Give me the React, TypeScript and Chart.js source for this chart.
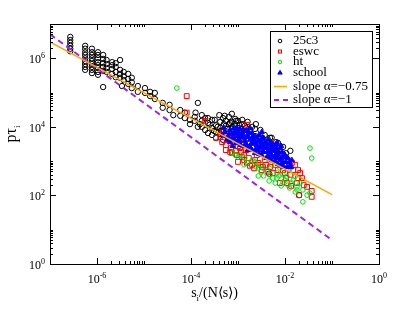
import React, { useEffect, useRef } from 'react';
import { Chart, registerables } from 'chart.js';

Chart.register(...registerables);

type P = [number, number];

// 25c3 (black circles)
const data25c3: P[] = [
  [2.7e-7, 4.2e6], [2.7e-7, 3.4e6], [2.7e-7, 2.8e6], [2.7e-7, 2.3e6], [2.7e-7, 1.9e6], [2.7e-7, 1.6e6],
  [5.6e-7, 2.3e6], [5.6e-7, 1.9e6], [5.6e-7, 1.5e6], [5.6e-7, 1.25e6], [5.6e-7, 1.0e6], [5.6e-7, 8.3e5], [5.6e-7, 6.8e5], [5.6e-7, 5.6e5], [5.6e-7, 4.6e5],
  [7.8e-7, 1.9e6], [7.8e-7, 1.5e6], [7.8e-7, 1.25e6], [7.8e-7, 1.0e6], [7.8e-7, 8.3e5], [7.8e-7, 6.8e5], [7.8e-7, 5.6e5], [7.8e-7, 4.6e5], [7.8e-7, 3.7e5],
  [1.05e-6, 1.5e6], [1.05e-6, 1.25e6], [1.05e-6, 1.0e6], [1.05e-6, 7.7e5], [1.05e-6, 6.3e5], [1.05e-6, 5.2e5], [1.05e-6, 4.0e5], [1.05e-6, 3.3e5],
  [1.35e-6, 1.25e6], [1.35e-6, 9.6e5], [1.35e-6, 7.2e5], [1.35e-6, 5.6e5], [1.35e-6, 4.3e5], [1.35e-6, 1.45e5],
  [1.6e-6, 8.9e5], [1.6e-6, 6.8e5], [1.6e-6, 5.2e5], [1.6e-6, 4.0e5],
  [2.1e-6, 7.7e5], [2.1e-6, 6.3e5], [2.1e-6, 4.9e5], [2.1e-6, 3.5e5],
  [2.5e-6, 7.2e5], [2.5e-6, 5.6e5], [2.5e-6, 4.0e5], [2.5e-6, 2.8e5],
  [3.1e-6, 8.9e5], [3.1e-6, 4.6e5], [3.1e-6, 3.5e5], [3.1e-6, 2.7e5], [3.4e-6, 1.55e5],
  [3.7e-6, 4.0e5], [3.7e-6, 3.0e5], [3.7e-6, 2.3e5],
  [4.6e-6, 3.5e5], [4.6e-6, 2.5e5], [4.6e-6, 1.8e5],
  [5.5e-6, 2.7e5], [5.5e-6, 2.0e5], [5.5e-6, 1.35e5],
  [7.4e-6, 1.55e5], [7.4e-6, 1.05e5], [1.05e-5, 1.35e5], [1.05e-5, 9.8e4],
  [1.35e-5, 1.05e5], [1.35e-5, 7.9e4], [1.7e-5, 9.8e4], [1.7e-5, 6.5e4],
  [2.5e-5, 5.0e4], [2.5e-5, 3.6e4], [3.5e-5, 4.4e4], [3.5e-5, 3.1e4], [4.2e-5, 2.2e4],
  [5.9e-5, 3.1e4], [5.9e-5, 2.1e4], [7.4e-5, 2.6e4], [7.4e-5, 1.8e4],
  [9.5e-5, 1.6e4], [9.5e-5, 1.2e4], [1.2e-4, 1.95e4], [1.2e-4, 1.5e4], [1.25e-4, 2.6e4],
  [1.4e-4, 5.0e4], [1.4e-4, 1.0e4], [1.55e-4, 1.2e4], [1.7e-4, 2.2e4], [1.7e-4, 1.5e4], [1.7e-4, 1.0e4],
  [2.0e-4, 1.8e4], [2.0e-4, 8.1e3], [2.3e-4, 1.3e4], [2.3e-4, 6.6e3], [2.3e-4, 1.8e4], [2.5e-4, 1.15e4],
  [2.8e-4, 1.6e4], [2.8e-4, 9.3e3], [2.8e-4, 5.8e3], [3.1e-4, 7.6e3], [3.2e-4, 1.6e4],
  [3.4e-4, 1.1e4], [3.4e-4, 7.0e3], [3.4e-4, 4.8e3], [3.7e-4, 1.0e4], [4.0e-4, 2.2e4],
  [4.2e-4, 1.4e4], [4.2e-4, 9.3e3], [4.2e-4, 6.1e3], [4.4e-4, 7.6e3], [4.8e-4, 1.8e4], [4.8e-4, 8.1e3], [4.8e-4, 4.2e3],
  [5.0e-4, 1.2e4], [5.2e-4, 2.1e4], [5.5e-4, 1.5e4], [5.5e-4, 1.07e4], [5.5e-4, 5.8e3], [5.9e-4, 8.7e3],
  [6.4e-4, 1.95e4], [6.4e-4, 1.2e4], [6.4e-4, 7.0e3], [6.4e-4, 4.2e3], [6.8e-4, 1.3e4],
  [7.4e-4, 2.4e4], [7.4e-4, 1.4e4], [7.4e-4, 8.7e3], [7.4e-4, 5.4e3], [7.7e-4, 1.0e4],
  [8.7e-4, 1.7e4], [8.7e-4, 1.1e4], [8.7e-4, 6.6e3], [9.1e-4, 1.5e4],
  [1.0e-3, 1.5e4], [1.0e-3, 9.3e3], [1.0e-3, 4.8e3], [1.05e-3, 1.15e4], [1.23e-3, 1.2e4], [1.23e-3, 7.6e3], [1.23e-3, 1.6e4],
  [1.4e-3, 1.07e4], [1.5e-3, 9.3e3], [1.5e-3, 5.8e3], [1.6e-3, 1.4e4], [1.8e-3, 8.1e3], [1.8e-3, 5.1e3],
  [2.0e-3, 1.0e4], [2.3e-3, 8.7e3], [2.3e-3, 5.4e3], [2.4e-3, 1.2e4], [3.0e-3, 8.1e3],
  [3.2e-3, 4.8e3], [3.2e-3, 3.6e3], [3.7e-3, 5.8e3], [4.4e-3, 4.2e3], [4.4e-3, 2.8e3], [4.8e-3, 4.8e3], [5.2e-3, 4.8e3],
  [6.2e-3, 2.8e3], [6.2e-3, 2.1e3], [6.5e-3, 3.6e3], [7.1e-3, 3.4e3], [7.8e-3, 2.1e3], [7.8e-3, 1.6e3],
  [9.1e-3, 2.6e3], [1.05e-2, 1.7e3], [1.3e-2, 2.0e3],
  [4.6e-3, 430], [2.0e-2, 102],
];

// eswc (red squares)
const dataEswc: P[] = [
  [8.1e-5, 7.9e4], [8.1e-5, 2.6e4], [2.0e-4, 1.5e4], [4.8e-4, 7.1e3], [4.2e-4, 5.1e3], [7.7e-4, 3.6e3],
  [6.8e-4, 1.85e3], [1.55e-3, 1.15e4], [8.7e-4, 4.2e3], [9.5e-4, 1.5e3], [1.23e-3, 1.3e3], [1.55e-3, 890],
  [2.0e-3, 780], [2.5e-3, 1.5e3], [3.4e-3, 680], [4.8e-3, 3.6e3], [1.3e-3, 3.4e3], [7.4e-4, 1.74e3],
  [3.2e-3, 550], [4.8e-3, 680], [7.8e-3, 1.3e3], [1.15e-2, 1.07e3], [1.4e-2, 890], [1.9e-2, 550],
  [2.1e-2, 450], [1.8e-2, 230], [2.95e-2, 178], [3.7e-2, 91], [2.0e-2, 102], [2.7e-3, 890],
  [5.5e-3, 450], [7.8e-3, 230], [1.1e-2, 230], [1.3e-2, 400], [1.9e-2, 320], [3.7e-2, 135],
  [5.5e-4, 2.95e3], [1.1e-3, 2.4e3], [1.5e-3, 2.1e3], [3.7e-3, 1.07e3], [6.2e-3, 780], [9.1e-3, 550],
  [6.2e-4, 4.8e3], [1.0e-3, 2.75e3], [1.35e-3, 1.07e3], [2.2e-3, 620],
  [5.5e-4, 2.1e3], [7.1e-4, 2.4e3], [9.1e-4, 2.0e3], [1.15e-3, 1.85e3], [1.35e-3, 1.5e3], [1.7e-3, 1.23e3],
  [1.8e-3, 730], [2.3e-3, 1.07e3], [3.0e-3, 780], [4.0e-3, 780], [4.4e-3, 490], [7.1e-3, 550],
  [1.0e-2, 450], [1.5e-2, 550], [1.65e-2, 780], [2.3e-2, 320], [2.5e-2, 200], [4.6e-4, 3.6e3],
  [3.4e-4, 4.8e3], [1.0e-3, 950], [1.05e-2, 320], [1.35e-2, 190],
];

// ht (green circles)
const dataHt: P[] = [
  [5.0e-5, 1.35e5], [7.7e-4, 1.74e3], [1.0e-3, 1.3e3], [1.4e-3, 1.23e3], [2.0e-3, 1.07e3], [2.3e-3, 950],
  [3.2e-3, 780], [3.4e-3, 3.6e3], [4.4e-3, 4.2e3], [2.7e-3, 630], [4.2e-3, 550], [5.2e-3, 780],
  [4.8e-3, 400], [6.8e-3, 450], [6.8e-3, 320], [7.8e-3, 630], [9.1e-3, 400], [9.1e-3, 245],
  [1.1e-2, 350], [1.15e-2, 200], [1.3e-2, 630], [1.5e-2, 280], [1.65e-2, 360], [1.8e-2, 178],
  [1.8e-2, 145], [2.1e-2, 230], [2.4e-2, 65], [2.95e-2, 102], [3.4e-2, 117], [3.4e-2, 2.4e3],
  [3.7e-2, 1.23e3], [1.1e-3, 1.5e3], [8.7e-4, 1.5e3],
  [1.6e-3, 890], [2.4e-3, 680], [3.1e-3, 490], [3.5e-3, 370], [5.5e-3, 320], [6.2e-3, 230],
  [7.4e-3, 370], [1.0e-2, 280], [1.25e-2, 165], [1.4e-2, 230], [1.65e-2, 126], [8.3e-3, 190],
  [4.6e-3, 265], [2.7e-3, 370], [1.35e-3, 780], [2.4e-2, 145],
];

// school (blue triangles)
const dataSchool: P[] = [
  [4.6e-4, 5.8e3], [5.2e-4, 7.1e3], [6.2e-4, 5.1e3], [6.8e-4, 8.1e3], [7.4e-4, 6.2e3], [8.1e-4, 4.5e3],
  [9.1e-4, 7.6e3], [1.0e-3, 5.4e3], [1.1e-3, 8.7e3], [1.1e-3, 3.9e3], [1.23e-3, 6.6e3], [1.35e-3, 4.8e3],
  [1.5e-3, 7.6e3], [1.5e-3, 3.2e3], [1.6e-3, 5.8e3], [1.8e-3, 4.2e3], [1.8e-3, 2.6e3], [2.0e-3, 6.6e3],
  [2.1e-3, 3.4e3], [2.3e-3, 5.1e3], [2.4e-3, 2.3e3], [2.7e-3, 3.9e3], [2.8e-3, 5.8e3], [3.0e-3, 2.75e3],
  [3.2e-3, 4.5e3], [3.4e-3, 2.0e3], [3.7e-3, 3.4e3], [4.0e-3, 2.4e3], [4.4e-3, 4.2e3], [4.4e-3, 1.5e3],
  [4.8e-3, 2.95e3], [5.0e-3, 2.0e3], [5.5e-3, 2.6e3], [5.9e-3, 1.3e3], [6.5e-3, 2.1e3], [6.8e-3, 3.4e3],
  [7.1e-3, 1.62e3], [7.8e-3, 2.4e3], [7.8e-3, 1.07e3], [8.7e-3, 1.85e3], [9.1e-3, 1.3e3], [1.0e-2, 1.5e3],
  [1.05e-2, 950], [1.15e-2, 1.23e3], [1.3e-2, 780], [3.2e-3, 1.5e3], [2.3e-3, 1.74e3], [1.6e-3, 2.1e3],
  [1.35e-3, 2.75e3], [9.1e-4, 3.4e3], [6.8e-4, 3.6e3], [5.2e-3, 1.07e3], [7.1e-3, 830], [9.5e-3, 680],
  [1.4e-2, 1.07e3], [8.1e-4, 9.3e3], [3.2e-3, 7.1e3], [1.8e-3, 9.3e3], [1.0e-3, 4.2e3], [1.3e-3, 5.8e3],
  [2.0e-3, 4.8e3], [2.5e-3, 2.95e3], [3.5e-3, 2.6e3], [4.8e-3, 1.85e3], [6.2e-3, 1.5e3], [8.3e-3, 1.23e3],
  [2.7e-3, 2.1e3], [4.0e-3, 1.23e3],
  [5.0e-4, 9.3e3], [5.9e-4, 4.2e3], [6.5e-4, 6.2e3], [7.7e-4, 5.1e3], [8.7e-4, 6.6e3], [9.5e-4, 9.3e3],
  [1.05e-3, 6.6e3], [1.15e-3, 5.1e3], [1.3e-3, 8.1e3], [1.4e-3, 3.9e3], [1.55e-3, 5.1e3], [1.7e-3, 7.1e3],
  [1.9e-3, 3.2e3], [2.1e-3, 5.4e3], [2.2e-3, 4.2e3], [2.4e-3, 3.2e3], [2.5e-3, 4.8e3], [2.8e-3, 2.4e3],
  [3.1e-3, 3.6e3], [3.4e-3, 2.75e3], [3.5e-3, 4.8e3], [4.0e-3, 3.2e3], [4.2e-3, 1.85e3], [4.6e-3, 2.4e3],
  [5.0e-3, 3.6e3], [5.2e-3, 1.5e3], [5.9e-3, 2.1e3], [6.2e-3, 2.95e3], [6.8e-3, 1.23e3], [7.4e-3, 1.85e3],
  [8.3e-3, 2.75e3], [9.1e-3, 950], [9.5e-3, 1.62e3], [1.1e-2, 1.3e3], [1.25e-2, 950], [1.35e-2, 680],
  [1.1e-2, 680], [8.3e-3, 780], [6.2e-3, 1.0e3], [4.6e-3, 1.23e3], [3.5e-3, 1.85e3], [2.8e-3, 1.62e3],
  [2.0e-3, 2.1e3], [1.55e-3, 2.75e3], [1.15e-3, 2.95e3], [7.7e-4, 2.75e3],
];

// reference power-law lines (end points)
const slope075Line: P[] = [[1e-7, 3.0e6], [1e-1, 1.05e2]];
const slope1Line: P[] = [[1e-7, 5.0e6], [1e-1, 5.0]];

const xMajorExps = [-6, -4, -2, 0];
const yMajorExps = [0, 2, 4, 6];
const xRange: P = [1e-7, 1];
const yRange: P = [1, 1e7];

const seriesNames = ['25c3', 'eswc', 'ht', 'school'];
const lineNames = ['slope \u03b1=\u22120.75', 'slope \u03b1=\u22121'];

const BLACK = '#000000';
const RED = '#ff0000';
const GREEN = '#00e000';
const BLUE = '#0000ff';
const ORANGE = '#ffa500';
const PURPLE = '#a020f0';
const FONT = '"Liberation Serif", "Times New Roman", serif';

const toPts = (a: P[]) => a.map(([x, y]) => ({ x, y }));

const decorPlugin = {
  id: 'decor',
  afterDraw(chart: any) {
    const ctx: CanvasRenderingContext2D = chart.ctx;
    const xs = chart.scales.x;
    const ys = chart.scales.y;
    const { left, right, top, bottom } = chart.chartArea;
    ctx.save();
    ctx.strokeStyle = '#000';
    ctx.lineWidth = 1;
    ctx.strokeRect(Math.round(left) + 0.5, Math.round(top) + 0.5, Math.round(right - left), Math.round(bottom - top));

    const line = (x1: number, y1: number, x2: number, y2: number) => {
      ctx.beginPath();
      ctx.moveTo(x1, y1);
      ctx.lineTo(x2, y2);
      ctx.stroke();
    };
    const MAJ = 6, MIN = 3;
    xMajorExps.forEach((e) => {
      const v = Math.pow(10, e);
      const px = Math.round(xs.getPixelForValue(v)) + 0.5;
      line(px, bottom, px, bottom - MAJ);
      line(px, top, px, top + MAJ);
      for (let k = 2; k <= 10; k++) {
        const mv = k * v;
        if (mv > xRange[1] * 1.0001) continue;
        const mp = Math.round(xs.getPixelForValue(mv)) + 0.5;
        line(mp, bottom, mp, bottom - MIN);
        line(mp, top, mp, top + MIN);
      }
    });
    yMajorExps.forEach((e) => {
      const v = Math.pow(10, e);
      const py = Math.round(ys.getPixelForValue(v)) + 0.5;
      line(left, py, left + MAJ, py);
      line(right, py, right - MAJ, py);
      for (let k = 2; k <= 10; k++) {
        const mv = k * v;
        if (mv > yRange[1] * 1.0001) continue;
        const mp = Math.round(ys.getPixelForValue(mv)) + 0.5;
        line(left, mp, left + MIN, mp);
        line(right, mp, right - MIN, mp);
      }
    });

    ctx.fillStyle = '#000';
    ctx.textBaseline = 'alphabetic';
    ctx.textAlign = 'left';
    const big = `12px ${FONT}`;
    const small = `8px ${FONT}`;
    const measure = (exp: string) => {
      ctx.font = big;
      const w1 = ctx.measureText('10').width;
      ctx.font = small;
      const w2 = ctx.measureText(exp).width;
      return [w1, w2];
    };
    const drawPow = (x0: number, base: number, exp: string) => {
      ctx.font = big;
      ctx.fillText('10', x0, base);
      const w1 = ctx.measureText('10').width;
      ctx.font = small;
      ctx.fillText(exp, x0 + w1, base - 5);
    };
    xMajorExps.forEach((e) => {
      const px = xs.getPixelForValue(Math.pow(10, e));
      const exp = String(e);
      const [w1, w2] = measure(exp);
      drawPow(px - (w1 + w2) / 2, bottom + 19, exp);
    });
    yMajorExps.forEach((e) => {
      const py = ys.getPixelForValue(Math.pow(10, e));
      const exp = String(e);
      const [w1, w2] = measure(exp);
      drawPow(left - 5 - (w1 + w2), py + 5, exp);
    });

    {
      const cx = (left + right) / 2;
      const base = bottom + 33;
      const f = `14px ${FONT}`;
      const fs = `9px ${FONT}`;
      const rest = '/(N\u27e8s\u27e9)';
      ctx.font = f;
      const ws = ctx.measureText('s').width;
      const wr = ctx.measureText(rest).width;
      ctx.font = fs;
      const wi = ctx.measureText('i').width;
      const total = ws + wi + wr;
      const x0 = cx - total / 2;
      ctx.font = f;
      ctx.fillText('s', x0, base);
      ctx.font = fs;
      ctx.fillText('i', x0 + ws, base + 4);
      ctx.font = f;
      ctx.fillText(rest, x0 + ws + wi, base);
    }
    {
      ctx.save();
      const cy = (top + bottom) / 2 - 10;
      ctx.translate(left - 34, cy);
      ctx.rotate(-Math.PI / 2);
      const f = `16px ${FONT}`;
      const fs = `9px ${FONT}`;
      ctx.font = f;
      const wp = ctx.measureText('p').width;
      const wt = ctx.measureText('\u03c4').width;
      ctx.font = fs;
      const wi = ctx.measureText('i').width;
      const total = wp + wt + wi;
      const x0 = -total / 2;
      ctx.font = f;
      ctx.fillText('p', x0, 0);
      ctx.fillText('\u03c4', x0 + wp, 0);
      ctx.font = fs;
      ctx.fillText('i', x0 + wp + wt, 4);
      ctx.lineWidth = 1;
      line(x0 + 0.5, -11.5, x0 + wp - 0.5, -11.5);
      ctx.restore();
    }

    {
      const bx = 262, by = 23, bw = 102, bh = 76;
      ctx.fillStyle = '#fff';
      ctx.fillRect(bx, by, bw, bh);
      ctx.strokeStyle = '#000';
      ctx.lineWidth = 1;
      ctx.strokeRect(bx + 0.5, by + 0.5, bw, bh);
      const symX = bx + 10;
      const textX = bx + 23;
      const rows = [33, 43.5, 54, 64.5, 78.5, 92];
      ctx.font = `13px ${FONT}`;
      ctx.fillStyle = '#000';
      ctx.textBaseline = 'middle';
      seriesNames.forEach((n, i) => ctx.fillText(n, textX, rows[i]));
      lineNames.forEach((n, i) => ctx.fillText(n, textX, rows[4 + i]));
      ctx.lineWidth = 1;
      ctx.strokeStyle = BLACK;
      ctx.beginPath(); ctx.arc(symX, rows[0], 1.8, 0, Math.PI * 2); ctx.stroke();
      ctx.strokeStyle = RED;
      ctx.strokeRect(symX - 1.5, rows[1] - 1.5, 3, 3);
      ctx.strokeStyle = GREEN;
      ctx.beginPath(); ctx.arc(symX, rows[2], 1.8, 0, Math.PI * 2); ctx.stroke();
      ctx.strokeStyle = BLUE;
      ctx.fillStyle = BLUE;
      ctx.beginPath();
      ctx.moveTo(symX, rows[3] - 2.2); ctx.lineTo(symX + 2.2, rows[3] + 1.6); ctx.lineTo(symX - 2.2, rows[3] + 1.6); ctx.closePath();
      ctx.fill();
      ctx.stroke();
      ctx.strokeStyle = ORANGE; ctx.lineWidth = 1.5;
      line(symX - 6, rows[4], symX + 7, rows[4]);
      ctx.strokeStyle = PURPLE; ctx.lineWidth = 2; ctx.setLineDash([5, 4]);
      line(symX - 6, rows[5], symX + 8, rows[5]);
      ctx.setLineDash([]);
    }
    ctx.restore();
  },
};

export default function App() {
  const ref = useRef<HTMLCanvasElement | null>(null);
  useEffect(() => {
    if (!ref.current) return;
    const chart = new Chart(ref.current, {
      type: 'scatter',
      data: {
        datasets: [
          { type: 'line', label: lineNames[0], data: toPts(slope075Line), borderColor: ORANGE, borderWidth: 1.5, pointRadius: 0, fill: false, order: -2 } as any,
          { type: 'line', label: lineNames[1], data: toPts(slope1Line), borderColor: PURPLE, borderWidth: 2, borderDash: [6, 4], pointRadius: 0, fill: false, order: -1 } as any,
          { label: seriesNames[3], data: toPts(dataSchool), pointStyle: 'triangle', pointRadius: 3, borderColor: BLUE, backgroundColor: BLUE, borderWidth: 1, order: 0 },
          { label: seriesNames[2], data: toPts(dataHt), pointStyle: 'circle', pointRadius: 2.3, borderColor: GREEN, backgroundColor: 'rgba(0,0,0,0)', borderWidth: 1, order: 1 },
          { label: seriesNames[1], data: toPts(dataEswc), pointStyle: 'rect', pointRadius: 3.4, borderColor: RED, backgroundColor: 'rgba(0,0,0,0)', borderWidth: 1, order: 2 },
          { label: seriesNames[0], data: toPts(data25c3), pointStyle: 'circle', pointRadius: 2.7, borderColor: BLACK, backgroundColor: 'rgba(0,0,0,0)', borderWidth: 1, order: 3 },
        ],
      },
      options: {
        responsive: false,
        animation: false,
        devicePixelRatio: 1,
        layout: { padding: { left: 42, top: 16, right: 20, bottom: 43 } },
        scales: {
          x: { type: 'logarithmic', min: xRange[0], max: xRange[1], display: false },
          y: { type: 'logarithmic', min: yRange[0], max: yRange[1], display: false },
        },
        plugins: { legend: { display: false }, tooltip: { enabled: false } },
      },
      plugins: [decorPlugin],
    });
    return () => chart.destroy();
  }, []);
  return (
    <div style={{ width: 391, height: 299 }}>
      <canvas ref={ref} width={391} height={299} />
    </div>
  );
}
